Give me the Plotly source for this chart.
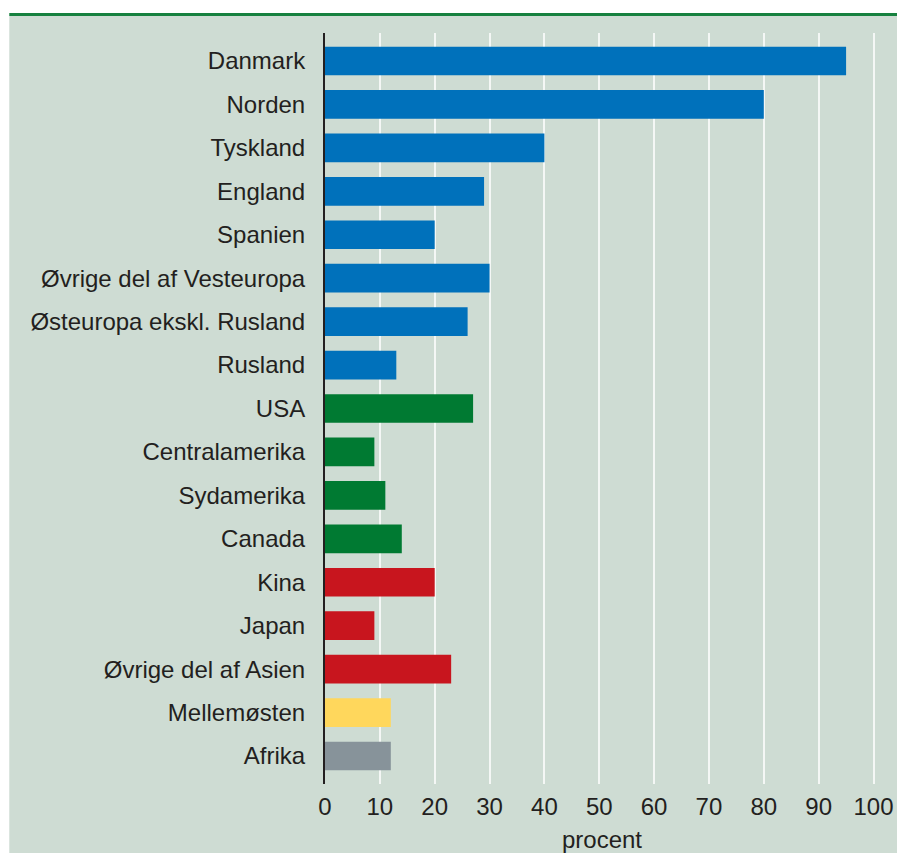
import plotly.graph_objects as go

categories = ["Danmark", "Norden", "Tyskland", "England", "Spanien",
              "Øvrige del af Vesteuropa", "Østeuropa ekskl. Rusland", "Rusland",
              "USA", "Centralamerika", "Sydamerika", "Canada",
              "Kina", "Japan", "Øvrige del af Asien", "Mellemøsten", "Afrika"]
values = [95, 80, 40, 29, 20, 30, 26, 13, 27, 9, 11, 14, 20, 9, 23, 12, 12]
regions = ["eu"] * 8 + ["am"] * 4 + ["as"] * 3 + ["me", "af"]
x_ticks = list(range(0, 101, 10))

region_colors = {"eu": "#0071BB", "am": "#007A32", "as": "#C8151E",
                 "me": "#FFD75C", "af": "#87939A"}
colors = [region_colors[r] for r in regions]

W, H = 897, 853
ml, mt, mb = 325, 33, 69
pw = 5.49 * 101
mr = W - ml - pw
ph = H - mt - mb

fig = go.Figure(go.Bar(
    x=values, y=list(range(len(categories))), orientation="h",
    marker=dict(color=colors, line=dict(width=0)),
    hoverinfo="skip",
))

def px_x(p):
    return (p - ml) / pw

def px_y(p):
    return (H - mb - p) / ph

fig.add_shape(type="rect", xref="paper", yref="paper",
              x0=px_x(9), x1=px_x(W + 5), y0=px_y(H + 5), y1=px_y(15.5),
              fillcolor="#CEDCD3", line=dict(width=0), layer="below")
fig.add_shape(type="line", xref="paper", yref="paper",
              x0=px_x(9), x1=px_x(W + 5), y0=px_y(14.5), y1=px_y(14.5),
              line=dict(color="#17813F", width=3), layer="below")

font_fam = "Liberation Sans, Arial, sans-serif"
txt_col = "#231F20"

fig.update_layout(
    width=W, height=H,
    margin=dict(l=ml, r=mr, t=mt, b=mb, pad=0, autoexpand=False),
    paper_bgcolor="white",
    plot_bgcolor="rgba(0,0,0,0)",
    bargap=0.34,
    showlegend=False,
    font=dict(family=font_fam, size=24, color=txt_col),
    xaxis=dict(
        range=[0, 101], tickvals=x_ticks, ticktext=[str(t) for t in x_ticks],
        showgrid=True, gridcolor="#F4F7F5", gridwidth=1.5,
        zeroline=False, showline=False, automargin=False,
        ticks="outside", ticklen=1, tickcolor="rgba(0,0,0,0)",
        tickfont=dict(size=24, color=txt_col),
        title=dict(text="procent", font=dict(size=24, color=txt_col), standoff=24),
        fixedrange=True,
    ),
    yaxis=dict(
        range=[len(categories) - 1 + 0.645, -0.645],
        tickvals=list(range(len(categories))), ticktext=categories,
        showgrid=False, zeroline=False, automargin=False,
        showline=True, linecolor=txt_col, linewidth=2,
        ticks="outside", ticklen=13, tickcolor="rgba(0,0,0,0)",
        tickfont=dict(size=24, color=txt_col),
        fixedrange=True,
    ),
)

fig.write_html("out.html", config={"displayModeBar": False},
               post_script="document.body.style.margin='0px';document.body.style.overflow='hidden';")
